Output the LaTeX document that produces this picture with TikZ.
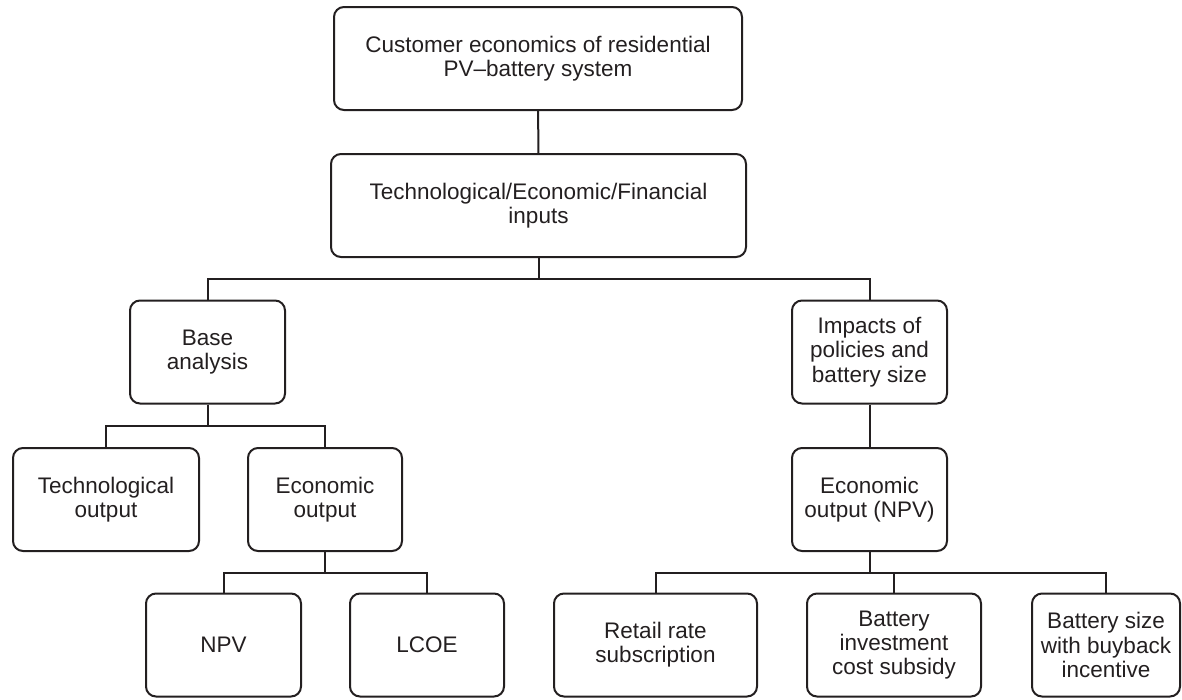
\documentclass[tikz,border=0pt]{standalone}
\usepackage{fontspec}
\setmainfont{Liberation Sans}
\definecolor{ink}{RGB}{35,31,32}

\begin{document}
\begin{tikzpicture}[x=1pt, y=-1pt,
    box/.style={draw=ink, text=ink, line width=2pt, rounded corners=10pt, align=center,
      minimum height=103pt, inner sep=0pt, font=\fontsize{22.5}{24.3}\selectfont},
    link/.style={draw=ink, line width=2pt}]
  \useasboundingbox (0,0) rectangle (1182,699);

  \node[box, minimum width=408pt] (top) at (538, 58.5) {Customer economics of residential\\PV–battery system};
  \node[box, minimum width=415pt] (inputs) at (538.5, 205.5) {Technological/Economic/Financial\\inputs};

  \node[box, minimum width=155pt] (base) at (207.5, 352) {Base\\analysis};
  \node[box, minimum width=155pt] (impacts) at (869.5, 352) {Impacts of\\policies and\\battery size};

  \node[box, minimum width=186pt] (tech) at (106, 499.5) {Technological\\output};
  \node[box, minimum width=154pt] (econ) at (325, 499.5) {Economic\\output};
  \node[box, minimum width=155pt] (econnpv) at (869.5, 499.5) {Economic\\output (NPV)};

  \node[box, minimum width=155pt] (npv) at (223.5, 645) {NPV};
  \node[box, minimum width=154pt] (lcoe) at (427, 645) {LCOE};
  \node[box, minimum width=203pt] (retail) at (655.5, 645) {Retail rate\\subscription};
  \node[box, minimum width=174pt] (battinv) at (894, 645) {Battery\\investment\\cost subsidy};
  \node[box, minimum width=148pt] (battsize) at (1106, 645) {Battery size\\with buyback\\incentive};

  \draw[link] (top) -- (inputs);
  \draw[link] (inputs.south) -- ++(0,21) -| (base.north);
  \draw[link] (inputs.south) -- ++(0,21) -| (impacts.north);
  \draw[link] (base.south) -- ++(0,21) -| (tech.north);
  \draw[link] (base.south) -- ++(0,21) -| (econ.north);
  \draw[link] (econ.south) -- ++(0,21) -| (npv.north);
  \draw[link] (econ.south) -- ++(0,21) -| (lcoe.north);
  \draw[link] (impacts) -- (econnpv);
  \draw[link] (econnpv.south) -- ++(0,21) -| (retail.north);
  \draw[link] (econnpv.south) -- ++(0,21) -| (battinv.north);
  \draw[link] (econnpv.south) -- ++(0,21) -| (battsize.north);
\end{tikzpicture}
\end{document}
